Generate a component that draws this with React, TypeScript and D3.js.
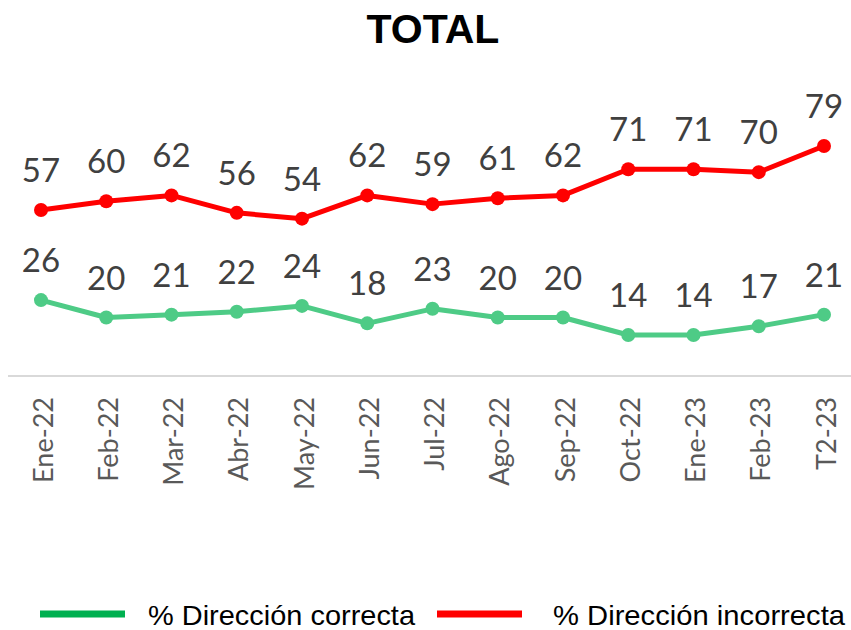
import React, { useEffect, useRef } from "react";
import * as d3 from "d3";

const categories = [
  "Ene-22", "Feb-22", "Mar-22", "Abr-22", "May-22", "Jun-22", "Jul-22",
  "Ago-22", "Sep-22", "Oct-22", "Ene-23", "Feb-23", "T2-23",
];
const correcta = [26, 20, 21, 22, 24, 18, 23, 20, 20, 14, 14, 17, 21];
const incorrecta = [57, 60, 62, 56, 54, 62, 59, 61, 62, 71, 71, 70, 79];
const seriesNames = ["% Dirección correcta", "% Dirección incorrecta"];

const W = 851;
const H = 630;

const App = () => {
  const ref = useRef<SVGSVGElement>(null);

  useEffect(() => {
    document.body.style.margin = "0";
    const svg = d3.select(ref.current);
    svg.selectAll("*").remove();

    const x = d3.scalePoint<string>().domain(categories).range([41, 824]);
    const y = d3.scaleLinear().domain([0, 100]).range([375.7, 84.9]);

    // title
    svg
      .append("text")
      .attr("x", 433)
      .attr("y", 43)
      .attr("text-anchor", "middle")
      .style("font-family", "Liberation Sans, Arial, sans-serif")
      .style("font-weight", "bold")
      .style("font-size", "41px")
      .attr("fill", "#000")
      .text("TOTAL");

    // category axis line
    svg
      .append("line")
      .attr("x1", 8)
      .attr("x2", W)
      .attr("y1", 376)
      .attr("y2", 376)
      .attr("stroke", "#d9d9d9")
      .attr("stroke-width", 2);

    // tick labels
    svg
      .selectAll("text.tick")
      .data(categories)
      .enter()
      .append("text")
      .attr("class", "tick")
      .attr("transform", (d) => `translate(${x(d)! + 2},397) rotate(-90)`)
      .attr("text-anchor", "end")
      .attr("dy", "0.36em")
      .style("font-family", "Lato, sans-serif")
      .style("font-size", "27px")
      .attr("fill", "#595959")
      .text((d) => d);

    const series = [
      { values: incorrecta, color: "#ff0000" },
      { values: correcta, color: "#4ecb86" },
    ];

    const line = d3
      .line<number>()
      .x((_, i) => x(categories[i])!)
      .y((d) => y(d));

    series.forEach((s) => {
      const g = svg.append("g");
      g.append("path")
        .attr("d", line(s.values))
        .attr("fill", "none")
        .attr("stroke", s.color)
        .attr("stroke-width", 5)
        .attr("stroke-linejoin", "round");

      g.selectAll("circle")
        .data(s.values)
        .enter()
        .append("circle")
        .attr("cx", (_, i) => x(categories[i])!)
        .attr("cy", (d) => y(d))
        .attr("r", 7)
        .attr("fill", s.color);

      g.selectAll("text")
        .data(s.values)
        .enter()
        .append("text")
        .attr("x", (_, i) => x(categories[i])!)
        .attr("y", (d) => y(d) - 28)
        .attr("text-anchor", "middle")
        .style("font-family", "Lato, sans-serif")
        .style("font-size", "33px")
        .attr("fill", "#404040")
        .text((d) => d);
    });

    // legend
    const legend = [
      { name: seriesNames[0], color: "#00b050", x: 40, tx: 148, w: 267 },
      { name: seriesNames[1], color: "#ff0000", x: 437, tx: 553, w: 292 },
    ];
    legend.forEach((l) => {
      svg
        .append("line")
        .attr("x1", l.x)
        .attr("x2", l.x + 85)
        .attr("y1", 614)
        .attr("y2", 614)
        .attr("stroke", l.color)
        .attr("stroke-width", 7);
      svg
        .append("text")
        .attr("x", l.tx)
        .attr("y", 625)
        .attr("textLength", l.w)
        .attr("lengthAdjust", "spacingAndGlyphs")
        .style("font-family", "Liberation Sans, Arial, sans-serif")
        .style("font-size", "28px")
        .attr("fill", "#000")
        .text(l.name);
    });
  }, []);

  return (
    <div style={{ width: W, height: H }}>
      <svg ref={ref} width={W} height={H} style={{ display: "block" }} />
    </div>
  );
};

export default App;
